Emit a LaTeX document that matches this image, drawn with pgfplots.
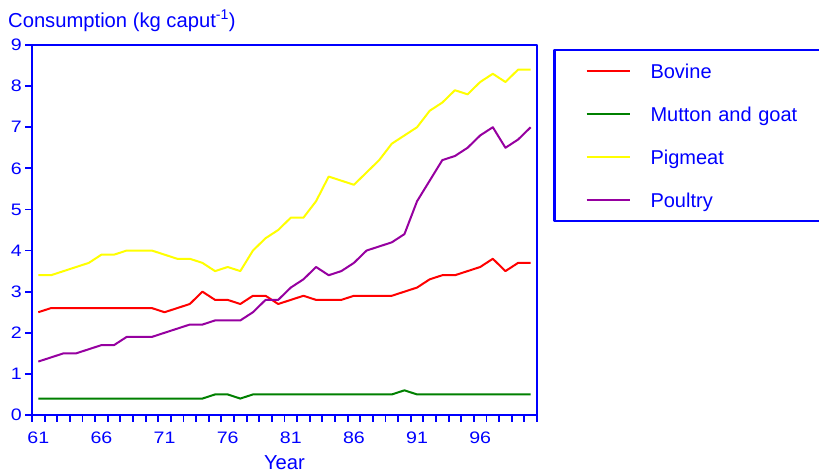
\documentclass[border=0pt]{standalone}
\usepackage{fontspec}
\setmainfont{Liberation Sans}
\newfontfamily\tickfont{Liberation Sans}[FakeStretch=1.18]
\usepackage{pgfplots}
\pgfplotsset{compat=1.18}
\definecolor{myblue}{RGB}{0,0,255}
\definecolor{myred}{RGB}{255,0,0}
\definecolor{mygreen}{RGB}{0,128,0}
\definecolor{myyellow}{RGB}{255,255,0}
\definecolor{mypurple}{RGB}{150,0,160}
\begin{document}
\begin{tikzpicture}
\useasboundingbox (0,0) rectangle (819pt,473pt);
\begin{axis}[
  at={(32pt,58pt)}, anchor=south west,
  scale only axis, width=505pt, height=370pt,
  xmin=60.5, xmax=100.5, ymin=0, ymax=9,
  xtick={61,66,71,76,81,86,91,96},
  minor xtick={60.5,61.5,...,100.5},
  ytick={0,1,2,3,4,5,6,7,8,9},
  minor ytick={0,1,2,3,4,5,6,7,8,9},
  tick pos=left,
  major tick length=0pt, minor tick length=6.8pt,
  tick align=outside,
  tick style={myblue, line width=1.8pt},
  minor tick style={myblue, line width=1.8pt},
  axis line style={myblue, line width=2.5pt},
  /pgf/number format/assume math mode=true,
  tick label style={font=\tickfont\fontsize{16.6}{20}\selectfont, text=myblue, inner sep=0pt},
  xticklabel style={anchor=north, yshift=-16.7pt},
  yticklabel style={anchor=east, xshift=-10pt},
  xlabel={Year},
  ylabel={Consumption (kg caput\textsuperscript{-1})},
  every axis x label/.style={at={(rel axis cs:0.5,0)}, anchor=base, inner sep=0pt, yshift=-54.3pt, font=\fontsize{20.2}{24}\selectfont, text=myblue},
  every axis y label/.style={at={(rel axis cs:0,1)}, anchor=base west, inner sep=0pt, xshift=-24pt, yshift=17.5pt, font=\fontsize{20.2}{24}\selectfont, text=myblue},
  legend image code/.code={\draw[#1] (0pt,0pt) -- (43pt,0pt);},
  legend cell align=left,
  legend style={at={(1.0347,0.9865)}, anchor=north west, draw=myblue, line width=2.2pt, outer sep=0pt, fill=white,
    inner xsep=31pt, inner ysep=14pt, row sep=28.7pt, column sep=20pt,
    font=\fontsize{20}{24}\selectfont,
    nodes={inner sep=0pt, text=myblue, text height=14.3pt, text depth=0pt, text width=170pt}},
  line join=round,
]
\addplot[myred, line width=2pt] coordinates {
(61,2.5)(62,2.6)(63,2.6)(64,2.6)(65,2.6)(66,2.6)(67,2.6)(68,2.6)(69,2.6)(70,2.6)
(71,2.5)(72,2.6)(73,2.7)(74,3.0)(75,2.8)(76,2.8)(77,2.7)(78,2.9)(79,2.9)(80,2.7)
(81,2.8)(82,2.9)(83,2.8)(84,2.8)(85,2.8)(86,2.9)(87,2.9)(88,2.9)(89,2.9)(90,3.0)
(91,3.1)(92,3.3)(93,3.4)(94,3.4)(95,3.5)(96,3.6)(97,3.8)(98,3.5)(99,3.7)(100,3.7)};
\addlegendentry{Bovine}
\addplot[mygreen, line width=2pt] coordinates {
(61,0.4)(62,0.4)(63,0.4)(64,0.4)(65,0.4)(66,0.4)(67,0.4)(68,0.4)(69,0.4)(70,0.4)
(71,0.4)(72,0.4)(73,0.4)(74,0.4)(75,0.5)(76,0.5)(77,0.4)(78,0.5)(79,0.5)(80,0.5)
(81,0.5)(82,0.5)(83,0.5)(84,0.5)(85,0.5)(86,0.5)(87,0.5)(88,0.5)(89,0.5)(90,0.6)
(91,0.5)(92,0.5)(93,0.5)(94,0.5)(95,0.5)(96,0.5)(97,0.5)(98,0.5)(99,0.5)(100,0.5)};
\addlegendentry{Mutton and goat}
\addplot[myyellow, line width=2pt] coordinates {
(61,3.4)(62,3.4)(63,3.5)(64,3.6)(65,3.7)(66,3.9)(67,3.9)(68,4.0)(69,4.0)(70,4.0)
(71,3.9)(72,3.8)(73,3.8)(74,3.7)(75,3.5)(76,3.6)(77,3.5)(78,4.0)(79,4.3)(80,4.5)
(81,4.8)(82,4.8)(83,5.2)(84,5.8)(85,5.7)(86,5.6)(87,5.9)(88,6.2)(89,6.6)(90,6.8)
(91,7.0)(92,7.4)(93,7.6)(94,7.9)(95,7.8)(96,8.1)(97,8.3)(98,8.1)(99,8.4)(100,8.4)};
\addlegendentry{Pigmeat}
\addplot[mypurple, line width=2pt] coordinates {
(61,1.3)(62,1.4)(63,1.5)(64,1.5)(65,1.6)(66,1.7)(67,1.7)(68,1.9)(69,1.9)(70,1.9)
(71,2.0)(72,2.1)(73,2.2)(74,2.2)(75,2.3)(76,2.3)(77,2.3)(78,2.5)(79,2.8)(80,2.8)
(81,3.1)(82,3.3)(83,3.6)(84,3.4)(85,3.5)(86,3.7)(87,4.0)(88,4.1)(89,4.2)(90,4.4)
(91,5.2)(92,5.7)(93,6.2)(94,6.3)(95,6.5)(96,6.8)(97,7.0)(98,6.5)(99,6.7)(100,7.0)};
\addlegendentry{Poultry}
\end{axis}
\end{tikzpicture}
\end{document}
